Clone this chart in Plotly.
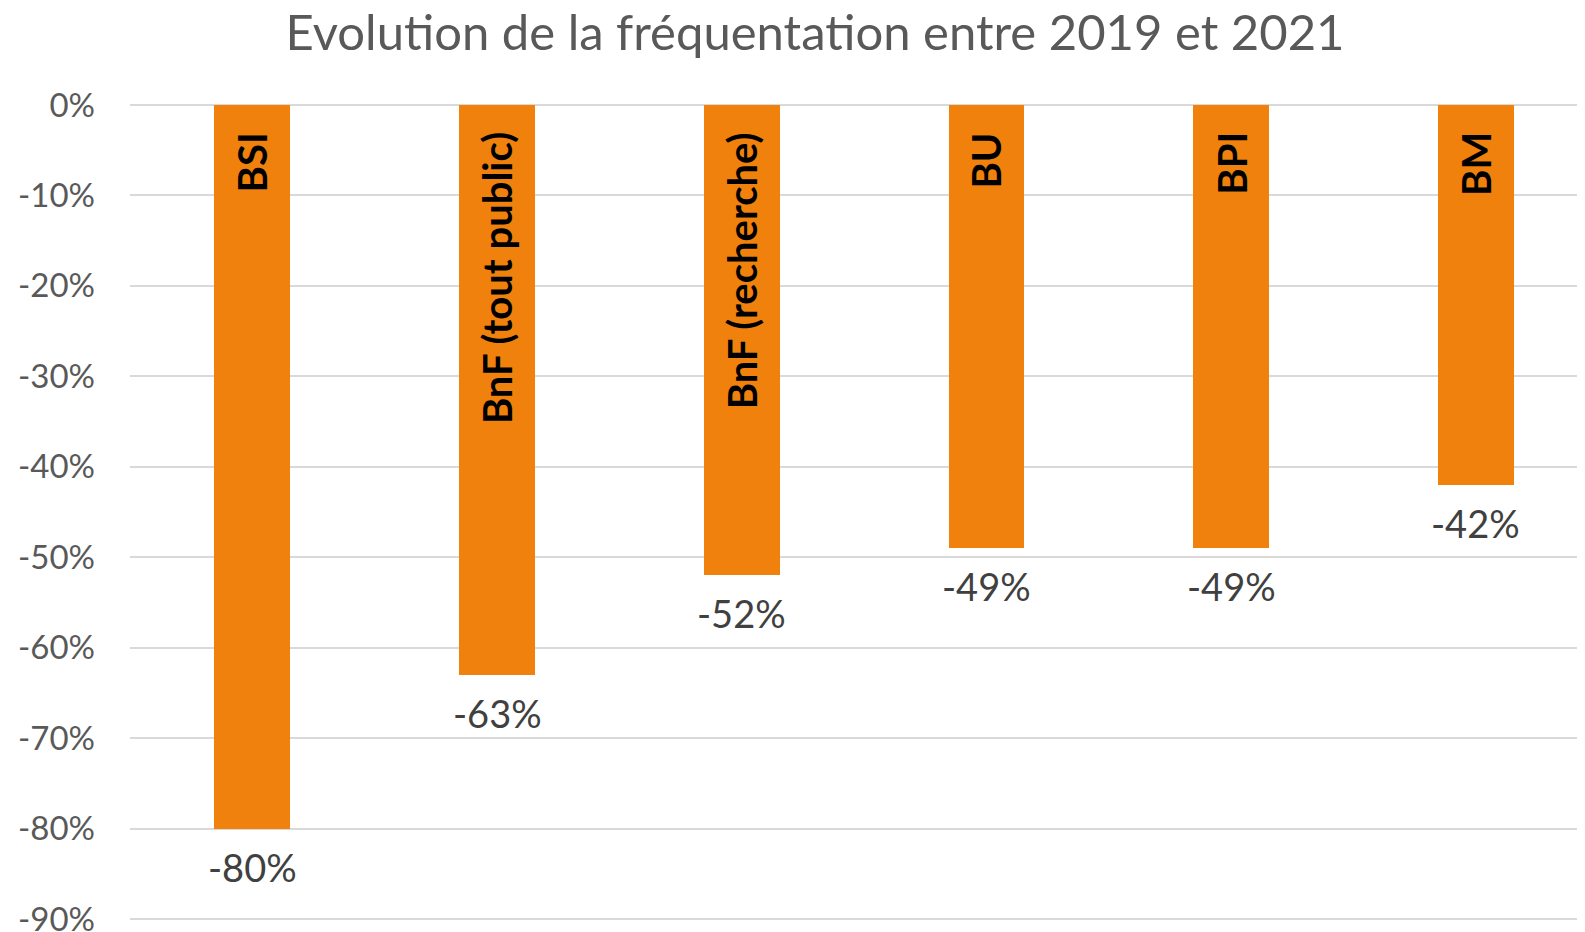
import plotly.graph_objects as go

categories = ["BSI", "BnF (tout public)", "BnF (recherche)", "BU", "BPI", "BM"]
values = [-80, -63, -52, -49, -49, -42]
value_labels = ["-80%", "-63%", "-52%", "-49%", "-49%", "-42%"]
tick_vals = [0, -10, -20, -30, -40, -50, -60, -70, -80, -90]
tick_text = ["0%", "-10%", "-20%", "-30%", "-40%", "-50%", "-60%", "-70%", "-80%", "-90%"]
title_text = "Evolution de la fréquentation entre 2019 et 2021"

FONT = "Lato"
BAR_COLOR = "#F0810C"

# the page body has an 8px default margin; figure sized to fit the window
W, H = 1577, 924

fig = go.Figure()
fig.add_trace(go.Bar(
    x=categories, y=values, width=0.31,
    marker=dict(color=BAR_COLOR, line=dict(width=0)),
    hoverinfo="skip",
))

annotations = []
for c, v, lab in zip(categories, values, value_labels):
    annotations.append(dict(
        x=c, y=v, xref="x", yref="y", text=lab, showarrow=False,
        yanchor="middle", xanchor="center", yshift=-38,
        font=dict(family=FONT, size=38, color="#404040"),
    ))
    annotations.append(dict(
        x=c, y=0, xref="x", yref="y", text="<b>%s</b>" % c, showarrow=False,
        textangle=-90, yanchor="top", xanchor="center", yshift=-25,
        font=dict(family=FONT, size=40, color="#000000"),
    ))

fig.update_layout(
    width=W, height=H,
    margin=dict(l=122, r=0, t=88, b=4, autoexpand=False),
    paper_bgcolor="white", plot_bgcolor="white",
    showlegend=False,
    title=dict(text=title_text, x=807 / W, xref="container", xanchor="center",
               y=1 - 25 / H, yref="container", yanchor="middle",
               font=dict(family=FONT, size=49, color="#595959")),
    xaxis=dict(range=[-0.5, 5.446], showticklabels=False, showgrid=False,
               zeroline=False, showline=False, ticks="", automargin=False),
    yaxis=dict(range=[-91, 1], tickvals=tick_vals, ticktext=tick_text,
               showgrid=True, gridcolor="#D9D9D9", gridwidth=2,
               zeroline=False, showline=False, ticks="", automargin=False,
               ticklabelstandoff=34, ticklabeloverflow="allow",
               tickfont=dict(family=FONT, size=33, color="#595959")),
    annotations=annotations,
    bargap=0,
)

fig.write_html("out.html")
